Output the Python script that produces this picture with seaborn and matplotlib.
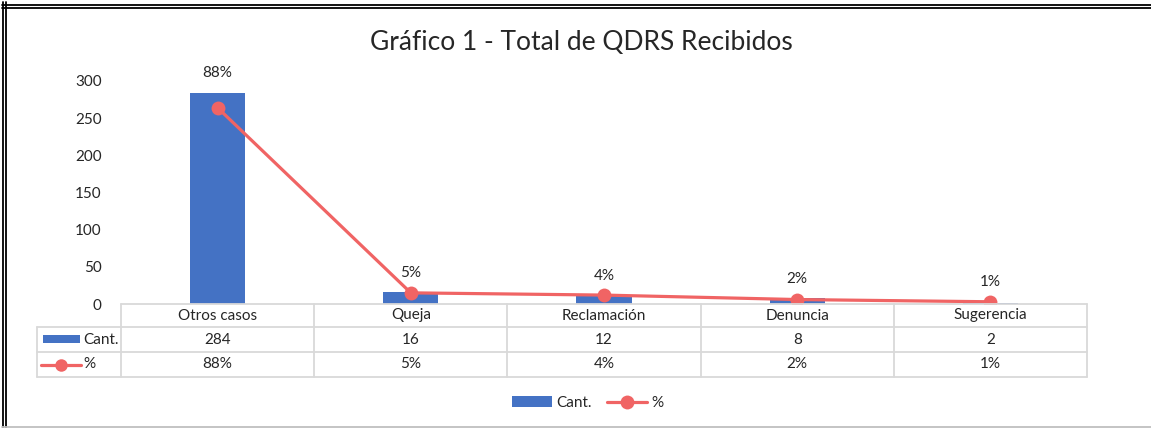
import numpy as np
import pandas as pd
import seaborn as sns
import matplotlib.pyplot as plt
from matplotlib.lines import Line2D
from matplotlib.patches import Rectangle, Patch

# datos del gráfico
categories = ["Otros casos", "Queja", "Reclamación", "Denuncia", "Sugerencia"]
cantidad = [284, 16, 12, 8, 2]
porcentaje = [0.88, 0.05, 0.04, 0.02, 0.01]
pct_labels = ["88%", "5%", "4%", "2%", "1%"]
y_ticks = [0, 50, 100, 150, 200, 250, 300]

BLUE = "#4472C4"
RED = "#F06464"
GRID = "#D9D9D9"

W, H = 1151, 428

sns.set_style("white")
plt.rcParams["font.family"] = ["Lato", "DejaVu Sans"]


def fx(x):
    return x / W


def fy(y):
    return 1 - y / H


fig = plt.figure(figsize=(W / 100, H / 100), dpi=100)

# area del grafico
ax = fig.add_axes([fx(121), fy(304), fx(1087) - fx(121), fy(81) - fy(304)])
df = pd.DataFrame({"cat": categories, "cant": cantidad, "pct": porcentaje})
sns.barplot(data=df, x="cat", y="cant", color=BLUE, saturation=1,
            width=0.285, linewidth=0, ax=ax)
ax.set_xlim(-0.5, len(categories) - 0.5)
ax.set_ylim(0, 300)
ax.set_yticks(y_ticks)
ax.set_xticks([])
ax.set_xlabel("")
ax.set_ylabel("")
ax.tick_params(axis="y", length=0, pad=14, labelsize=11)
sns.despine(ax=ax, left=True, bottom=True)

# serie % en eje secundario (oculto)
ax2 = ax.twinx()
sns.lineplot(x=np.arange(len(categories)), y=porcentaje, color=RED,
             linewidth=2.3, marker="o", markersize=10, markeredgewidth=0,
             legend=False, ax=ax2)
ax2.set_ylim(0, 1)
ax2.axis("off")

# etiquetas de datos
scale = ax.get_ylim()[1] / ax2.get_ylim()[1]
for i, lab in enumerate(pct_labels):
    top = max(cantidad[i], porcentaje[i] * scale)
    ax.annotate(lab, (i, top), xytext=(0, 14), textcoords="offset points",
                ha="center", va="center", fontsize=11, annotation_clip=False)

# tabla de datos
pos = ax.get_position()
edges = np.linspace(pos.x0, pos.x1, len(categories) + 1)
centers = (edges[:-1] + edges[1:]) / 2
rows = [fy(304), fy(327), fy(352), fy(377)]
x_left = fx(37)

fig.add_artist(Line2D([edges[0], edges[-1]], [rows[0], rows[0]], color=GRID, lw=1.3))
for r in rows[1:]:
    fig.add_artist(Line2D([x_left, edges[-1]], [r, r], color=GRID, lw=1.3))
for e in edges:
    fig.add_artist(Line2D([e, e], [rows[0], rows[-1]], color=GRID, lw=1.3))
fig.add_artist(Line2D([x_left, x_left], [rows[1], rows[-1]], color=GRID, lw=1.3))

row_mid = [(rows[k] + rows[k + 1]) / 2 for k in range(3)]
cant_labels = [str(v) for v in cantidad]
for c, cat, cv, pv in zip(centers, categories, cant_labels, pct_labels):
    fig.text(c, row_mid[0], cat, ha="center", va="center", fontsize=11)
    fig.text(c, row_mid[1], cv, ha="center", va="center", fontsize=11)
    fig.text(c, row_mid[2], pv, ha="center", va="center", fontsize=11)

# claves de leyenda en la tabla
fig.add_artist(Rectangle((fx(43), fy(343)), fx(80) - fx(43), fy(335) - fy(343),
                         color=BLUE, lw=0))
fig.text(fx(83), row_mid[1], "Cant.", ha="left", va="center", fontsize=11)
fig.add_artist(Line2D([fx(41), fx(81)], [row_mid[2], row_mid[2]], color=RED, lw=2.3))
fig.add_artist(Line2D([fx(61)], [row_mid[2]], color=RED, marker="o",
                      markersize=9, markeredgewidth=0))
fig.text(fx(83), row_mid[2], "%", ha="left", va="center", fontsize=11)

# leyenda inferior
handles = [Patch(color=BLUE, lw=0, label="Cant."),
           Line2D([], [], color=RED, lw=2.3, marker="o", markersize=10,
                  markeredgewidth=0, label="%")]
fig.legend(handles=handles, loc="center", bbox_to_anchor=(fx(588), fy(403)),
           ncol=2, frameon=False, fontsize=11, handlelength=2.6,
           columnspacing=1.0, handletextpad=0.3)

# titulo
fig.text(fx(581), fy(42), "Gráfico 1 - Total de QDRS Recibidos",
         ha="center", va="center", fontsize=19)

# marco del grafico
for y in (4.5, 8):
    fig.add_artist(Line2D([fx(2), 1], [fy(y), fy(y)], color="black", lw=1.3))
for x in (2.5, 6):
    fig.add_artist(Line2D([fx(x), fx(x)], [fy(2), 0], color="black", lw=1.3))
fig.add_artist(Line2D([fx(2), 1], [fy(427), fy(427)], color="#BFBFBF", lw=1.3))

fig.savefig("out.png", dpi=100)
